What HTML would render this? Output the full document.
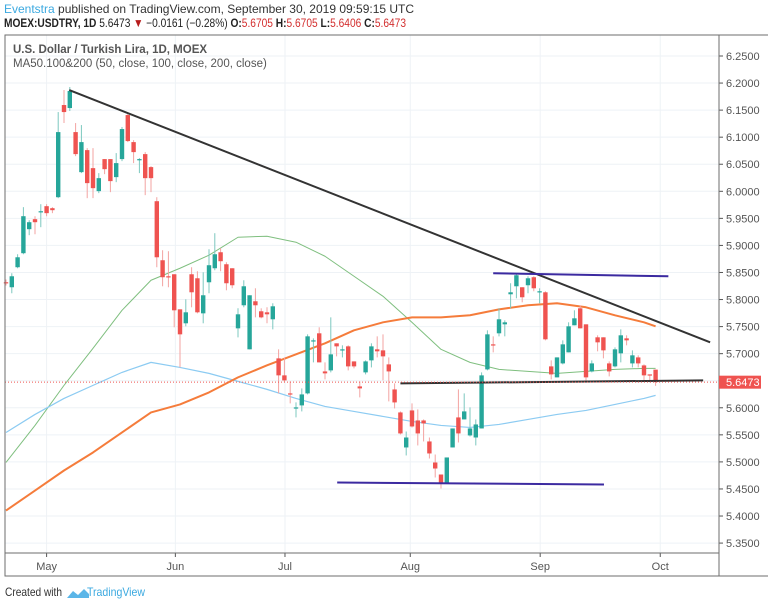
<!DOCTYPE html>
<html><head><meta charset="utf-8"><style>
body{margin:0;width:768px;height:606px;background:#fff;overflow:hidden;font-family:"Liberation Sans",sans-serif}
svg{position:absolute;left:0;top:0}
</style></head><body>
<svg id="chart" width="768" height="606" xmlns="http://www.w3.org/2000/svg">
<text x="4" y="13" font-size="12" fill="#333"><tspan fill="#3ba9e0">Eventstra</tspan> published on TradingView.com, September 30, 2019 09:59:15 UTC</text>
<text x="4" y="27" font-size="12" fill="#222" textLength="402" lengthAdjust="spacingAndGlyphs"><tspan font-weight="bold">MOEX:USDTRY, 1D</tspan> 5.6473 <tspan fill="#b71c1c">▼</tspan> −0.0161 (−0.28%) <tspan font-weight="bold">O:</tspan><tspan fill="#d32f2f">5.6705</tspan> <tspan font-weight="bold">H:</tspan><tspan fill="#d32f2f">5.6705</tspan> <tspan font-weight="bold">L:</tspan><tspan fill="#d32f2f">5.6406</tspan> <tspan font-weight="bold">C:</tspan><tspan fill="#d32f2f">5.6473</tspan></text>
<g id="grid"></g>
<g id="ma"></g>
<g id="candles"></g>
<g id="drawings"></g>
<g id="axes"></g>
<text x="13" y="53" font-size="11.5" fill="#555" font-weight="bold">U.S. Dollar / Turkish Lira, 1D, MOEX</text>
<text x="13" y="67" font-size="11.5" fill="#555">MA50.100&amp;200 (50, close, 100, close, 200, close)</text>
<text x="5" y="596" font-size="12" fill="#333" textLength="57" lengthAdjust="spacingAndGlyphs">Created with</text>
<path d="M67 598 l6-7 5 4 6-6 5 5 v4 h-22z" fill="#5bb6e8"/>
<text x="87" y="596" font-size="12" fill="#3ba9e0" textLength="58" lengthAdjust="spacingAndGlyphs">TradingView</text>
</svg>
<script>
// candles: open, high, low, close
const opens=[5.832,5.8227,5.8597,5.8856,5.9300,5.9485,5.9614,5.9725,5.9688,5.9891,6.1594,6.1538,6.1094,6.0354,6.0761,6.0428,6.0003,6.0595,6.0595,6.0262,6.0595,6.1409,6.0909,6.0576,6.0687,6.0447,5.9817,5.8726,5.8430,5.8467,5.7819,5.7561,5.8467,5.8393,5.7745,5.8319,5.8578,5.8874,5.8652,5.8578,5.7468,5.7894,5.7080,5.7968,5.7783,5.7764,5.7635,5.6913,5.6599,5.6266,5.5988,5.6044,5.6266,5.7228,5.7376,5.6672,5.6691,5.7191,5.7061,5.7135,5.6857,5.6395,5.6654,5.6876,5.7080,5.7061,5.6802,5.6339,5.5914,5.5267,5.5951,5.5766,5.5766,5.5378,5.4989,5.4767,5.4601,5.5267,5.5822,5.5785,5.5489,5.5451,5.5618,5.6709,5.7172,5.7376,5.7542,5.8097,5.8245,5.8227,5.8264,5.8412,5.8134,5.8134,5.6765,5.6562,5.6820,5.7024,5.7524,5.7838,5.7542,5.6672,5.7302,5.7302,5.6820,5.6765,5.7006,5.7283,5.6820,5.6931,5.6783,5.6617,5.6705];
const highs=[5.837,5.8486,5.8837,5.9707,5.9466,5.9540,5.9762,5.9762,5.9707,6.1464,6.1871,6.1927,6.1261,6.1224,6.0798,6.0798,6.0336,6.0595,6.0595,6.0706,6.1187,6.1446,6.0946,6.0613,6.0724,6.0465,5.9891,5.8911,5.8893,5.8467,5.7819,5.8005,5.8597,5.8523,5.8504,5.8929,5.9226,5.8948,5.8689,5.8578,5.7838,5.8356,5.8079,5.8208,5.7838,5.7857,5.7931,5.7080,5.6931,5.6488,5.6099,5.6358,5.7357,5.7283,5.7487,5.6839,5.7671,5.7191,5.7154,5.7154,5.6857,5.6488,5.6876,5.7191,5.7320,5.7357,5.6931,5.6451,5.5933,5.5562,5.6081,5.5970,5.5785,5.5451,5.5137,5.4767,5.5082,5.5618,5.6340,5.6266,5.6007,5.5785,5.6654,5.7431,5.7320,5.7838,5.7616,5.8301,5.8486,5.8227,5.8430,5.8430,5.8208,5.8153,5.6876,5.6931,5.7246,5.7579,5.7801,5.7894,5.7542,5.6876,5.7339,5.7302,5.6857,5.7117,5.7449,5.7339,5.7061,5.6969,5.6802,5.6617,5.6705];
const lows=[5.826,5.8116,5.8578,5.8837,5.9189,5.9207,5.9337,5.9540,5.9596,5.9873,6.1261,6.1483,6.0650,6.0336,5.9873,5.9873,5.9966,6.0317,5.9984,6.0169,6.0558,6.0909,6.0521,6.0336,5.9929,5.9984,5.8597,5.8245,5.8227,5.7487,5.6746,5.7505,5.7857,5.7745,5.7561,5.8116,5.8541,5.8523,5.8171,5.8208,5.7302,5.7857,5.7080,5.7671,5.7653,5.7561,5.7449,5.6266,5.6469,5.6081,5.5822,5.5933,5.6247,5.6839,5.6839,5.6525,5.6654,5.6950,5.6931,5.6691,5.6728,5.6192,5.6617,5.6746,5.6931,5.6506,5.6118,5.5988,5.5507,5.5119,5.5636,5.5304,5.5378,5.5063,5.4712,5.4508,5.4601,5.5267,5.5359,5.5785,5.5470,5.5304,5.5618,5.6691,5.7024,5.7320,5.7320,5.7838,5.8023,5.7949,5.8116,5.8153,5.7931,5.7246,5.6525,5.6562,5.6802,5.7024,5.7524,5.7468,5.6488,5.6654,5.7043,5.6913,5.6580,5.6746,5.6839,5.7154,5.6746,5.6746,5.6506,5.6469,5.6406];
const closes=[5.831,5.8430,5.8781,5.9540,5.9429,5.9429,5.9632,5.9596,5.9651,6.1094,6.1464,6.1853,6.0687,6.0909,6.0151,6.0058,6.0243,6.0409,6.0188,6.0521,6.1150,6.0928,6.0724,6.0595,6.0243,6.0243,5.8781,5.8412,5.8412,5.7801,5.7357,5.7764,5.8134,5.7764,5.8079,5.8634,5.8837,5.8708,5.8301,5.8264,5.7727,5.8245,5.8079,5.7894,5.7671,5.7727,5.7875,5.6599,5.6506,5.6247,5.6007,5.6247,5.7320,5.7246,5.6839,5.6636,5.6987,5.7135,5.7080,5.6765,5.6765,5.6358,5.6857,5.7135,5.7043,5.6950,5.6672,5.6099,5.5526,5.5451,5.5655,5.5526,5.5711,5.5156,5.4878,5.4601,5.5082,5.5618,5.5526,5.5933,5.5618,5.5692,5.6599,5.7357,5.7154,5.7635,5.7579,5.8134,5.8449,5.8042,5.8393,5.8208,5.8153,5.7265,5.6617,5.6931,5.7172,5.7505,5.7653,5.7468,5.6562,5.6820,5.7209,5.7061,5.6672,5.7080,5.7339,5.7246,5.6969,5.6820,5.6599,5.6599,5.6473];
// moving averages sampled at candle indices
const maIdx=[0,5,10,15,20,25,30,35,40,45,50,55,60,65,70,75,80,85,90,95,100,105,110,112];
const ma50=[5.4989,5.5674,5.6414,5.7098,5.7801,5.8356,5.8578,5.8819,5.9151,5.9170,5.9059,5.8800,5.8430,5.8060,5.7579,5.7080,5.6839,5.6709,5.6672,5.6636,5.6672,5.6709,5.6728,5.6728];
const ma100=[5.4101,5.4471,5.4841,5.5174,5.5544,5.5914,5.6062,5.6284,5.6562,5.6784,5.6987,5.7191,5.7431,5.7579,5.7671,5.7671,5.7709,5.7819,5.7894,5.7931,5.7857,5.7709,5.7579,5.7505];
const ma200=[5.5544,5.5877,5.6173,5.6414,5.6654,5.6839,5.6746,5.6636,5.6488,5.6340,5.6173,5.6025,5.5933,5.5840,5.5748,5.5674,5.5637,5.5692,5.5785,5.5877,5.5951,5.6062,5.6173,5.6229];
const monthLabels=["May","Jun","Jul","Aug","Sep","Oct"];
const monthIdx=[7.0,29.2,48.1,69.7,92.1,112.8];
const priceTicks=[6.25,6.2,6.15,6.1,6.05,6.0,5.95,5.9,5.85,5.8,5.75,5.7,5.65,5.6,5.55,5.5,5.45,5.4,5.35];
// trend drawings: [idx1, price1, idx2, price2]
const trendDown=[10.9,6.1871,121.4,5.7209];
const supportLine=[68.0,5.6451,120.2,5.6506];
const resistTop=[84.0,5.8486,114.2,5.8430];
const supportBottom=[57.1,5.4619,103.1,5.4582];
const lastPrice=5.6473;

const NS="http://www.w3.org/2000/svg";
const L=5,R=719,T=35,B=553;
const x=i=>6+i*5.8;
const y=p=>56+(6.25-p)/0.05*27.06;
function mk(tag,at,par){const e=document.createElementNS(NS,tag);for(const k in at)e.setAttribute(k,at[k]);document.getElementById(par).appendChild(e);return e;}
// grid
priceTicks.forEach((p,k)=>{const g=mk('line',{x1:L,x2:R,y1:y(p),y2:y(p),stroke:'#eef2f6','stroke-width':1},'grid');


const t=mk('text',{x:726,y:y(p)+4,'font-size':11,fill:'#555'},'axes');t.textContent=p.toFixed(4);


const tk=mk('line',{x1:R,x2:R+4,y1:y(p),y2:y(p),stroke:'#555'},'axes');

});
monthIdx.forEach((m,k)=>{const g=mk('line',{x1:x(m),x2:x(m),y1:T,y2:B,stroke:'#eef2f6'},'grid');


const t=mk('text',{x:x(m),y:570,'font-size':11,fill:'#555','text-anchor':'middle'},'axes');t.textContent=monthLabels[k];


const tk=mk('line',{x1:x(m),x2:x(m),y1:B,y2:B+4,stroke:'#555'},'axes');

});
// frame
let f=mk('rect',{x:L,y:T,width:800,height:576-T,fill:'none',stroke:'#6e6e6e','stroke-width':1},'axes');


f=mk('line',{x1:R,x2:R,y1:T,y2:576,stroke:'#6e6e6e'},'axes');


f=mk('line',{x1:L,x2:R,y1:B,y2:B,stroke:'#6e6e6e'},'axes');


// MAs
[[ma50,'#7fbf7f',1,'ma50-line'],[ma200,'#8ccbf2',1.2,'ma200-line'],[ma100,'#f57c3b',2,'ma100-line']].forEach(([arr,c,w,n])=>{
const pl=mk('polyline',{points:arr.map((v,k)=>x(maIdx[k])+','+y(v)).join(' '),fill:'none',stroke:c,'stroke-width':w,'stroke-linejoin':'round'},'ma');

});
// candles
opens.forEach((o,i)=>{const c=closes[i],up=c>=o,col=up?'#26a69a':'#ef5350',wc=up?'#7cc8bf':'#f3a3a1';
const w=mk('line',{x1:x(i),x2:x(i),y1:y(highs[i]),y2:y(lows[i]),stroke:wc,'stroke-width':1},'candles');


const top=y(Math.max(o,c)),h=Math.max(1.2,Math.abs(y(o)-y(c)));
const b=mk('rect',{x:x(i)-2.2,y:top,width:4.4,height:h,fill:col},'candles');

});
// drawings
[[trendDown,'#333','trend-line-down',2],[supportLine,'#333','support-line',2],[resistTop,'#3b2aa0','resistance-channel-top',2],[supportBottom,'#3b2aa0','support-channel-bottom',2]].forEach(([d,c,n,w])=>{
const l=mk('line',{x1:x(d[0]),y1:y(d[1]),x2:x(d[2]),y2:y(d[3]),stroke:c,'stroke-width':w},'drawings');

});
let pl=mk('line',{x1:L,x2:R,y1:y(lastPrice),y2:y(lastPrice),stroke:'#ef5350','stroke-width':1,'stroke-dasharray':'1,2'},'drawings');


pl=mk('rect',{x:R,y:y(lastPrice)-6.5,width:42,height:13,fill:'#ef5350'},'axes');


pl=mk('text',{x:726,y:y(lastPrice)+4,'font-size':11,fill:'#fff'},'axes');pl.textContent=lastPrice.toFixed(4);


</script>
</body></html>
